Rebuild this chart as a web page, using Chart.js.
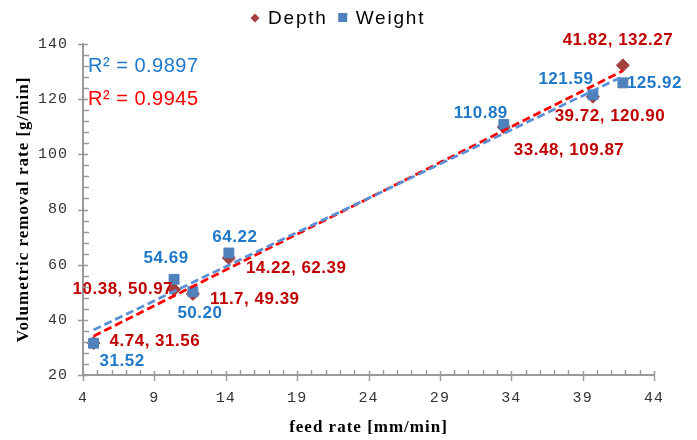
<!DOCTYPE html>
<html>
<head>
<meta charset="utf-8">
<title>Volumetric removal rate vs feed rate</title>
<script src="https://cdn.jsdelivr.net/npm/chart.js@4/dist/chart.umd.min.js"></script>
<style>
  html, body { margin: 0; padding: 0; background: #fff; }
  #wrap { width: 697px; height: 440px; }
</style>
</head>
<body>
<div id="wrap"><canvas id="c" width="697" height="440"></canvas></div>
<script>
// ---- data ----
const feedRate   = [4.74, 10.38, 11.7, 14.22, 33.48, 39.72, 41.82];
const depthRate  = [31.56, 50.97, 49.39, 62.39, 109.87, 120.90, 132.27];
const weightRate = [31.52, 54.69, 50.20, 64.22, 110.89, 121.59, 125.92];
const seriesNames = ['Depth', 'Weight'];
const xTicks = [4, 9, 14, 19, 24, 29, 34, 39, 44];
const yTicks = [20, 40, 60, 80, 100, 120, 140];
const r2Labels = ['R\u00b2 = 0.9897', 'R\u00b2 = 0.9945'];

// ---- styling ----
const DEPTH_MARK = '#A3403D';
const WEIGHT_MARK = '#4F81BD';
const DEPTH_TEXT = '#C00000';
const WEIGHT_TEXT = '#1F78C8';
const DEPTH_TREND = '#FF0000';
const WEIGHT_TREND = '#5A90D6';
const AXIS = '#9a9a9a';
const X_MINOR = 1, Y_MINOR = 4;

// label placement relative to each point: [dx, dy, align]
const depthLabelPos = [[16,-2,'left'],[-1,0,'right'],[17,5,'left'],[17,10,'left'],[10,23,'left'],[17,20,'center'],[-5,-25,'center']];
const weightLabelPos = [[6,18,'left'],[-8,-21,'center'],[7,22,'center'],[6,-16,'center'],[4,-11,'right'],[-27,-15,'center'],[4,0,'left']];

const toPoints = (xs, ys) => xs.map((x, i) => ({x: x, y: ys[i]}));

// least-squares linear trendline over the data range
function trend(xs, ys) {
  const n = xs.length;
  const mx = xs.reduce((a, b) => a + b, 0) / n;
  const my = ys.reduce((a, b) => a + b, 0) / n;
  let sxy = 0, sxx = 0;
  for (let i = 0; i < n; i++) { sxy += (xs[i] - mx) * (ys[i] - my); sxx += (xs[i] - mx) ** 2; }
  const b = sxy / sxx, a = my - b * mx;
  const lo = Math.min(...xs), hi = Math.max(...xs);
  return [{x: lo, y: a + b * lo}, {x: hi, y: a + b * hi}];
}

const depthLabels = feedRate.map((x, i) => String(x) + ', ' + depthRate[i].toFixed(2));
const weightLabels = weightRate.map(v => v.toFixed(2));

const decorations = {
  id: 'decorations',
  beforeDraw(chart) {
    chart.ctx.letterSpacing = '1px';
  },
  afterDatasetsDraw(chart) {
    const {ctx, scales: {x, y}, chartArea} = chart;
    ctx.save();
    ctx.textBaseline = 'middle';
    ctx.font = 'bold 17px "Liberation Sans", Arial, sans-serif';
    ctx.letterSpacing = '0.5px';
    const put = (txt, px, py, pos, color) => {
      ctx.fillStyle = color;
      ctx.textAlign = pos[2];
      ctx.fillText(txt, px + pos[0], py + pos[1]);
    };
    feedRate.forEach((fx, i) => {
      put(depthLabels[i], x.getPixelForValue(fx), y.getPixelForValue(depthRate[i]), depthLabelPos[i], DEPTH_TEXT);
      put(weightLabels[i], x.getPixelForValue(fx), y.getPixelForValue(weightRate[i]), weightLabelPos[i], WEIGHT_TEXT);
    });
    // R-squared annotations
    ctx.font = '20px "Liberation Sans", Arial, sans-serif';
    ctx.letterSpacing = '0.5px';
    ctx.textAlign = 'left';
    ctx.fillStyle = WEIGHT_TEXT;
    ctx.fillText(r2Labels[0], chartArea.left + 5, chartArea.top + 22);
    ctx.fillStyle = '#FF0000';
    ctx.fillText(r2Labels[1], chartArea.left + 5, chartArea.top + 55);
    ctx.restore();
  },
  afterDraw(chart) {
    const {ctx, scales: {x, y}} = chart;
    ctx.save();
    ctx.letterSpacing = '0px';
    ctx.strokeStyle = AXIS;
    ctx.lineWidth = 1.5;
    const ax = y.right, ay = x.top;
    ctx.beginPath();
    // y-axis ticks
    for (let v = y.min; v <= y.max + 1e-9; v += Y_MINOR) {
      const py = Math.round(y.getPixelForValue(v)) + 0.5;
      if (yTicks.includes(v)) { ctx.moveTo(ax - 5, py); ctx.lineTo(ax + 5, py); }
      else { ctx.moveTo(ax, py); ctx.lineTo(ax + 6, py); }
    }
    // x-axis ticks
    for (let v = x.min; v <= x.max + 1e-9; v += X_MINOR) {
      const px = Math.round(x.getPixelForValue(v)) + 0.5;
      if (xTicks.includes(v)) { ctx.moveTo(px, ay - 4); ctx.lineTo(px, ay + 6); }
      else { ctx.moveTo(px, ay - 5); ctx.lineTo(px, ay); }
    }
    ctx.stroke();

    // legend
    ctx.font = '19px "Liberation Sans", Arial, sans-serif';
    ctx.letterSpacing = '1.8px';
    ctx.textBaseline = 'middle';
    ctx.textAlign = 'left';
    let lx = 250;
    const ly = 18;
    seriesNames.forEach((name, i) => {
      if (i === 0) {
        ctx.fillStyle = DEPTH_MARK;
        ctx.beginPath();
        ctx.moveTo(lx + 5, ly - 4.5); ctx.lineTo(lx + 9.5, ly); ctx.lineTo(lx + 5, ly + 4.5); ctx.lineTo(lx + 0.5, ly);
        ctx.closePath(); ctx.fill();
      } else {
        ctx.fillStyle = WEIGHT_MARK;
        ctx.fillRect(lx + 0.5, ly - 5, 9, 9);
      }
      ctx.fillStyle = '#000';
      ctx.fillText(name, lx + 18, ly + 1);
      lx += 18 + ctx.measureText(name).width + 10;
    });
    ctx.restore();
  }
};

new Chart(document.getElementById('c'), {
  type: 'scatter',
  data: {
    datasets: [
      { label: seriesNames[0], data: toPoints(feedRate, depthRate), backgroundColor: DEPTH_MARK, borderColor: DEPTH_MARK,
        pointStyle: 'rectRot', pointRadius: 6.5, pointHoverRadius: 6.5, order: 3 },
      { label: seriesNames[1], data: toPoints(feedRate, weightRate), backgroundColor: WEIGHT_MARK, borderColor: WEIGHT_MARK,
        pointStyle: 'rect', pointRadius: 7, pointHoverRadius: 7, order: 2 },
      { type: 'line', label: 'Depth trend', data: trend(feedRate, depthRate), borderColor: DEPTH_TREND, borderWidth: 2.75,
        borderDash: [8, 4], pointRadius: 0, fill: false, order: 1 },
      { type: 'line', label: 'Weight trend', data: trend(feedRate, weightRate), borderColor: WEIGHT_TREND, borderWidth: 2.75,
        borderDash: [8, 4], pointRadius: 0, fill: false, order: 0 }
    ]
  },
  options: {
    responsive: false,
    animation: false,
    layout: { padding: { top: 44, right: 43, left: 0, bottom: 0 } },
    plugins: { legend: { display: false }, tooltip: { enabled: false } },
    scales: {
      x: {
        type: 'linear', min: 4, max: 44,
        afterBuildTicks: s => { s.ticks = xTicks.map(v => ({value: v})); },
        afterFit: s => { s.height = 65; },
        grid: { display: false, drawTicks: false },
        border: { display: true, color: AXIS, width: 2 },
        ticks: { color: '#333', padding: 14, font: { family: '"Liberation Mono", monospace', size: 15 } },
        title: { display: true, text: 'feed rate [mm/min]', color: '#000', padding: { top: 0, bottom: 2 },
                 font: { family: '"Liberation Serif", "Times New Roman", serif', size: 17, weight: 'bold' } }
      },
      y: {
        min: 20, max: 140,
        afterBuildTicks: s => { s.ticks = yTicks.map(v => ({value: v})); },
        afterFit: s => { s.width = 83; },
        grid: { display: false, drawTicks: false },
        border: { display: true, color: AXIS, width: 2 },
        ticks: { color: '#333', padding: 15, font: { family: '"Liberation Mono", monospace', size: 15 } },
        title: { display: true, text: 'Volumetric removal rate [g/min]', color: '#000', padding: { top: 13, bottom: 0 },
                 font: { family: '"Liberation Serif", "Times New Roman", serif', size: 17, weight: 'bold' } }
      }
    }
  },
  plugins: [decorations]
});
</script>
</body>
</html>
